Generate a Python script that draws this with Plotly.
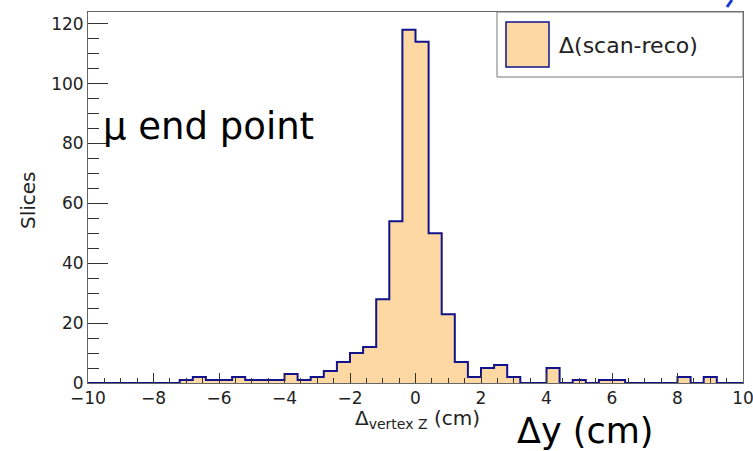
import numpy as np
import plotly.graph_objects as go

# ---- data ----
bin_edges = np.linspace(-10, 10, 51)          # 50 bins of 0.4 cm
counts = [0, 0, 0, 0, 0, 0, 0, 1, 2, 1,
          1, 2, 1, 1, 1, 3, 1, 2, 4, 7,
          10, 12, 28, 54, 118, 114, 50, 23, 7, 2,
          5, 6, 2, 0, 0, 5, 0, 1, 0, 1,
          1, 0, 0, 0, 0, 2, 0, 2, 0, 0]
x_ticks = [-10, -8, -6, -4, -2, 0, 2, 4, 6, 8, 10]
y_ticks = [0, 20, 40, 60, 80, 100, 120]
series_name = "Δ(scan-reco)"

FILL = "#fdd8a2"
LINE = "#12128c"
FONT = "DejaVu Sans"

W, H = 753, 451
L, R, T, B = 88, 10, 12, 68
pw, ph = W - L - R, H - T - B


def px(xp):
    return (xp - L) / pw


def py(yp):
    return (H - B - yp) / ph


step_x = list(bin_edges)
step_y = list(counts) + [counts[-1]]

fig = go.Figure()
fig.add_trace(go.Scatter(
    x=step_x, y=step_y, mode="lines", line_shape="hv",
    line=dict(color=LINE, width=2), fill="tozeroy", fillcolor=FILL,
    name=series_name, showlegend=False, hoverinfo="skip"))

ymax = max(counts) * 1.05

axis_common = dict(showgrid=False, zeroline=False, showline=True, mirror=True,
                   linecolor="#666666", linewidth=1, ticks="inside",
                   tickcolor="#333333", tickwidth=1, ticklabeloverflow="allow",
                   automargin=False,
                   tickfont=dict(family=FONT, size=17, color="#222222"))

fig.update_xaxes(range=[-10, 10], tickvals=x_ticks,
                 ticktext=[("−" + str(abs(v))) if v < 0 else str(v) for v in x_ticks],
                 ticklen=10,
                 minor=dict(dtick=0.5, ticklen=5, ticks="inside", tickcolor="#333333"),
                 **axis_common)
fig.update_yaxes(range=[0, ymax], tickvals=y_ticks, ticklen=20,
                 minor=dict(dtick=5, ticklen=11, ticks="inside", tickcolor="#333333"),
                 **axis_common)

shapes = [
    # legend frame
    dict(type="rect", xref="paper", yref="paper", x0=px(497), x1=1, y0=py(77), y1=1,
         line=dict(color="#777777", width=1), fillcolor="white", layer="above"),
    # legend swatch
    dict(type="rect", xref="paper", yref="paper", x0=px(506), x1=px(549), y0=py(67), y1=py(22),
         line=dict(color=LINE, width=1.5), fillcolor=FILL, layer="above"),
    # small blue stroke at top right
    dict(type="line", xref="paper", yref="paper", x0=px(727), y0=py(7), x1=px(732), y1=py(0),
         line=dict(color="#1a3ad8", width=3)),
]

annotations = [
    dict(text=series_name, xref="paper", yref="paper", x=px(557), y=py(45),
         xanchor="left", yanchor="middle", showarrow=False,
         font=dict(family=FONT, size=22, color="#222222")),
    dict(text="μ end point", xref="paper", yref="paper", x=px(101), y=py(126),
         xanchor="left", yanchor="middle", showarrow=False,
         font=dict(family=FONT, size=37, color="black")),
    dict(text="Δy (cm)", xref="paper", yref="paper", x=px(585), y=py(431),
         xanchor="center", yanchor="middle", showarrow=False,
         font=dict(family=FONT, size=35, color="black")),
    dict(text="Δ<sub>vertex Z</sub> (cm)", xref="paper", yref="paper", x=px(418), y=py(419),
         xanchor="center", yanchor="middle", showarrow=False,
         font=dict(family=FONT, size=20, color="#222222")),
    dict(text="Slices", xref="paper", yref="paper", x=px(28), y=py(200),
         xanchor="center", yanchor="middle", showarrow=False, textangle=-90,
         font=dict(family=FONT, size=20, color="#222222")),
]

fig.update_layout(width=W, height=H, margin=dict(l=L, r=R, t=T, b=B, autoexpand=False),
                  paper_bgcolor="white", plot_bgcolor="white",
                  shapes=shapes, annotations=annotations, showlegend=False)

fig.write_html("out.html")
